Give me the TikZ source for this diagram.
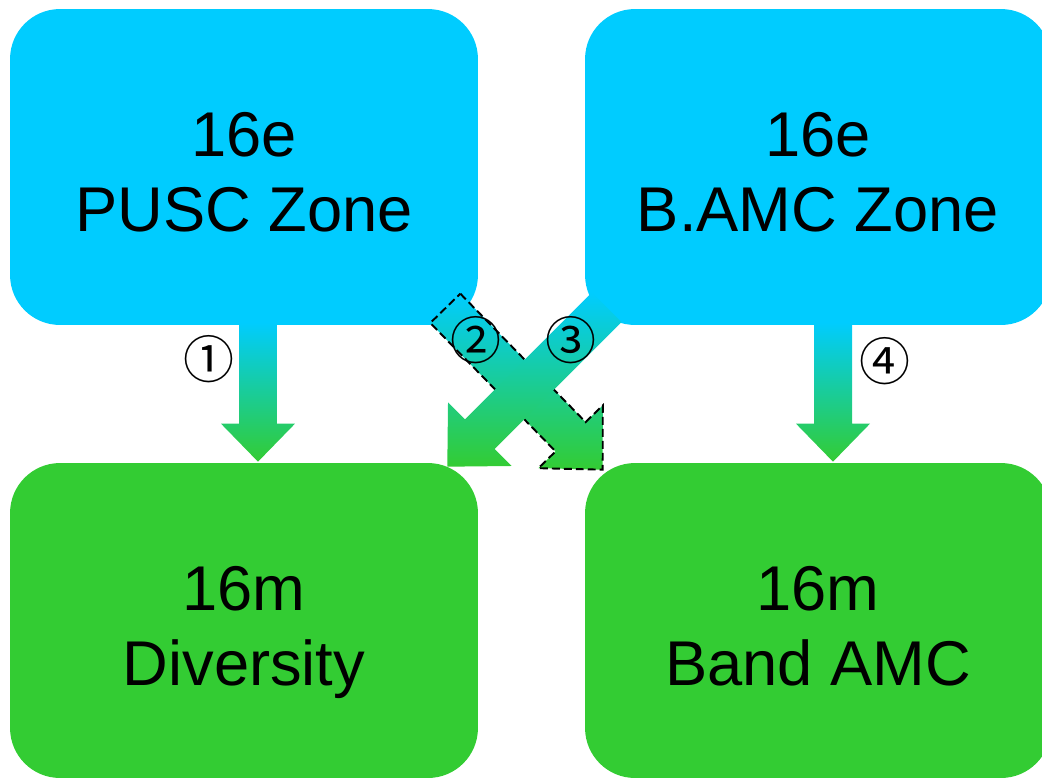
\documentclass[tikz,border=0pt]{standalone}
\usepackage{fontspec}
\setmainfont{Liberation Sans}
\newfontfamily\circfont{Noto Sans CJK KR}
\usetikzlibrary{calc}
\definecolor{zonecyan}{RGB}{0,204,255}
\definecolor{modegreen}{RGB}{51,204,51}
\newcommand\boxfont{\fontsize{36}{42.7}\selectfont}
\tikzset {
box/.style={shape=rectangle,rounded corners=1cm,minimum width=9.36cm,minimum height=6.32cm,align=center,text height=2.6cm,text depth=0pt,font=\boxfont},
zone/.style={box,fill=zonecyan},
mode/.style={box,fill=modegreen},
step no/.style={font=\circfont\fontsize{29}{29}\selectfont,inner sep=0pt},
blockarrow/.style args={#1/#2/#3}{top color=zonecyan,bottom color=modegreen,
  to path={($(\tikztostart)!#1!90:(\tikztotarget)$)
    -- ($(\tikztotarget)!#3!(\tikztostart)!#1!-90:(\tikztostart)$)
    -- ($(\tikztotarget)!#3!(\tikztostart)!#2!-90:(\tikztostart)$)
    -- (\tikztotarget)
    -- ($(\tikztotarget)!#3!(\tikztostart)!#2!90:(\tikztostart)$)
    -- ($(\tikztotarget)!#3!(\tikztostart)!#1!90:(\tikztostart)$)
    -- ($(\tikztostart)!#1!-90:(\tikztotarget)$) -- cycle}},
straight/.style={blockarrow=0.38cm/0.74cm/0.76cm},
cross/.style={blockarrow=0.42cm/0.9cm/0.92cm}
}
\begin{document}
\begin{tikzpicture}
[x=0.02cm,y=-0.02cm]
\useasboundingbox (0,0) rectangle (1042,778);
\node[zone] (pusc) at (244,167) {16e\\PUSC Zone};
\node[zone,minimum width=9.32cm] (bamc) at (818,167) {16e\\B.AMC Zone};
\node[mode,minimum height=6.3cm] (diversity) at (244,620.5) {16m\\Diversity};
\node[mode,minimum width=9.32cm,minimum height=6.3cm] (band amc) at (818,620.5) {16m\\Band AMC};

\path[straight] ($(pusc.south)+(14,-3)$) to ($(diversity.north)+(14,-1)$);
\path[straight] ($(bamc.south)+(15,-3)$) to ($(band amc.north)+(15,-1)$);
\path[cross,draw=black,line width=1.1pt,dash pattern=on 4.5pt off 2.3pt] ($(pusc.south east)+(-33,-17)$) to ($(band amc.north west)+(18,7)$);
\path[cross] ($(bamc.south west)+(22,-18)$) to ($(diversity.north east)+(-31,4)$);

\node[step no] (one) at (209,359) {①};
\node[step no] (two) at (476,340) {②};
\node[step no] (three) at (571,340) {③};
\node[step no] (four) at (885,361) {④};
\end{tikzpicture}
\end{document}
